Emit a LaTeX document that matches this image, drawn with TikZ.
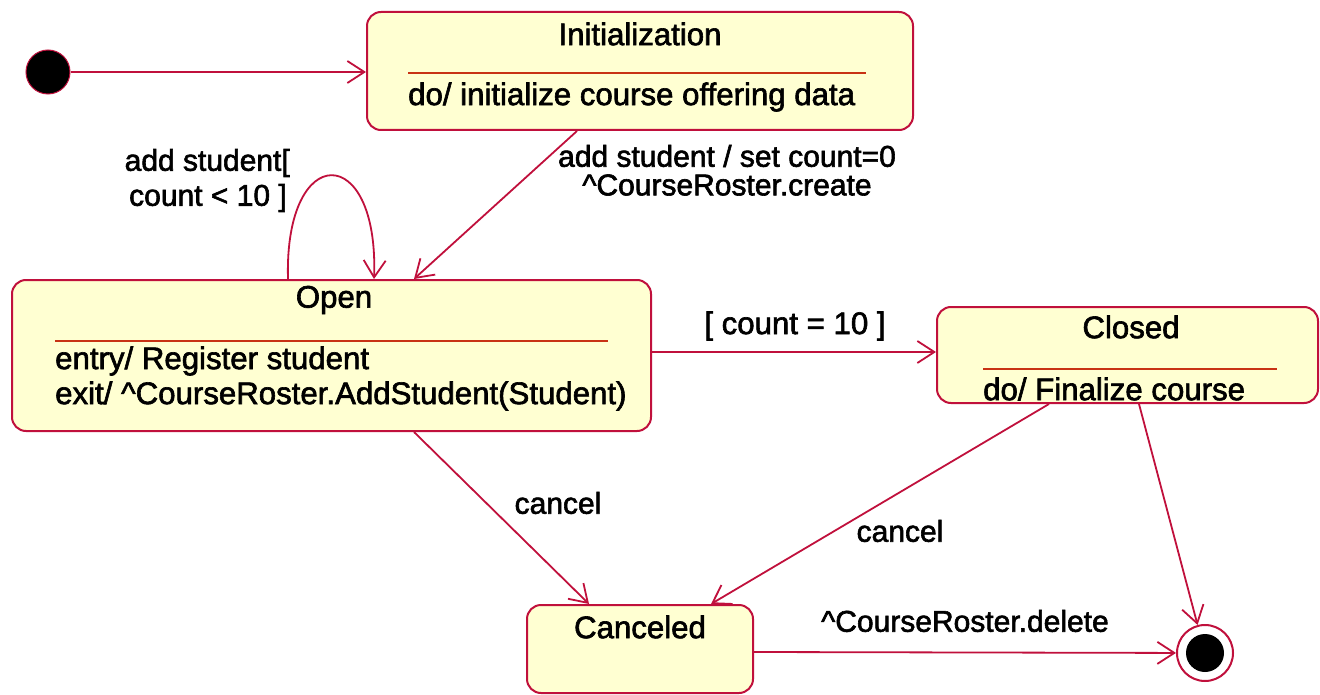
\documentclass[tikz,border=0pt]{standalone}
\usepackage{fontspec}
\setmainfont{Liberation Sans}[FakeBold=2]
\usetikzlibrary{arrows.meta}
\definecolor{bd}{HTML}{C0103C}
\definecolor{fillc}{HTML}{FFFFD2}
\definecolor{sepc}{HTML}{C83214}
\begin{document}
\begin{tikzpicture}[x=1pt,y=-1pt,
  statebox/.style={draw=bd, line width=2pt, fill=fillc, rounded corners=14pt, inner sep=0pt},
  txt/.style={font=\fontsize{31.2}{35}\selectfont, inner sep=0pt, text=black},
  lab/.style={font=\fontsize{30}{34}\selectfont, inner sep=0pt, text=black},
  sepline/.style={draw=sepc, line width=2pt},
  tr/.style={draw=bd, line width=1.8pt, -{Straight Barb[length=17pt,width=22pt,line width=1.8pt]}},
]
\useasboundingbox (0,0) rectangle (1320,695);
% states
\node[statebox, minimum width=546pt, minimum height=118pt] (init) at (640,71) {};
\node[statebox, minimum width=639pt, minimum height=151pt] (open) at (331.5,355.5) {};
\node[statebox, minimum width=381pt, minimum height=96pt] (closed) at (1127.5,355) {};
\node[statebox, minimum width=226pt, minimum height=88pt] (canc) at (640,649) {};
\node[circle, fill=black, draw=bd, line width=1pt, minimum size=44pt, inner sep=0pt] (start) at (48,72) {};
\node[circle, fill=white, draw=bd, line width=2pt, minimum size=56pt, inner sep=0pt] (fin) at (1205,653) {};
\node[circle, fill=black, minimum size=38pt, inner sep=0pt] (fincore) at (fin) {};
% state texts
\node[txt] (initT) at (640,34) {Initialization};
\draw[sepline] (408,73) -- (866,73);
\node[txt, anchor=west] (initD) at (408,97) {do/ initialize course offering data};
\node[txt] (openT) at (334,300) {Open};
\draw[sepline] (55,341) -- (608,341);
\node[txt, anchor=west] (openE) at (55,361) {entry/ Register student};
\node[txt, anchor=west] (openX) at (55,396) {exit/ \textasciicircum CourseRoster.AddStudent(Student)};
\node[txt] (closedT) at (1131,327) {Closed};
\draw[sepline] (983,369) -- (1277,369);
\node[txt, anchor=west] (closedD) at (983,389) {do/ Finalize course};
\node[txt] (cancT) at (640,627) {Canceled};
% transitions
\draw[tr] (start) -- (start -| init.west);
\draw[tr] ([xshift=211pt]init.south west) -- ([xshift=403pt]open.north west);
\draw[tr] ([xshift=277pt]open.north west) .. controls (284,141) and (379,141) .. ([xshift=363pt]open.north west);
\draw[tr] ([yshift=3.5pt]open.east) -- ([yshift=3pt]closed.west);
\draw[tr] ([xshift=403pt]open.south west) -- ([xshift=63pt]canc.north west);
\draw[tr] ([xshift=113pt]closed.south west) -- ([xshift=185pt]canc.north west);
\draw[tr] ([xshift=203pt]closed.south west) -- (fin);
\draw[tr] ([yshift=-3pt]canc.east) -- (fin);
% labels
\node[lab] (l1) at (727,156) {add student / set count=0};
\node[lab] (l2) at (727,185) {\textasciicircum CourseRoster.create};
\node[lab, anchor=east] (l3) at (290,163) {add student[};
\node[lab, anchor=east] (l4) at (287,198) {count < 10 ]};
\node[txt] (l5) at (795,326) {[ count = 10 ]};
\node[lab] (l6) at (558,503) {cancel};
\node[lab] (l7) at (900,531) {cancel};
\node[lab] (l8) at (965,621) {\textasciicircum CourseRoster.delete};
\end{tikzpicture}
\end{document}
